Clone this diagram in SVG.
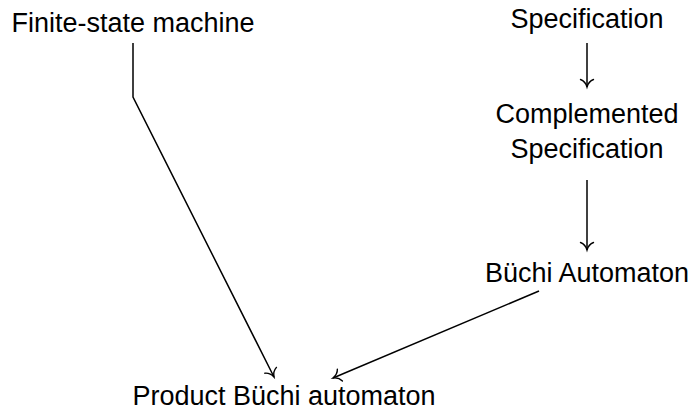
<svg xmlns="http://www.w3.org/2000/svg" width="695" height="410" viewBox="0 0 695 410">
<style>
text{font-family:"Liberation Sans",Arial,sans-serif;font-size:27px;fill:#000;text-anchor:middle}
.e{fill:none;stroke:#000;stroke-width:1.5}
</style>
<defs>
<marker id="to" markerUnits="userSpaceOnUse" markerWidth="20" markerHeight="20" viewBox="-10 -10 20 20" refX="0" refY="0" orient="auto">
<path d="M-7.5,-6.5 C-6,-2.6 -2.5,-0.7 0,0 C-2.5,0.7 -6,2.6 -7.5,6.5" fill="none" stroke="#000" stroke-width="1.4" stroke-linecap="round"/>
</marker>
</defs>
<rect width="695" height="410" fill="#fff"/>
<g id="fsm"><text x="133" y="32">Finite-state machine</text></g>
<g id="spec"><text x="587" y="28">Specification</text></g>
<g id="comp"><text x="587" y="123">Complemented</text><text x="587" y="158">Specification</text></g>
<g id="buchi"><text x="587" y="282">Büchi Automaton</text></g>
<g id="product"><text x="284" y="405">Product Büchi automaton</text></g>
<g id="connectors">
<path class="e" d="M587,43 V87" marker-end="url(#to)"/>
<path class="e" d="M587,180 V250" marker-end="url(#to)"/>
<path class="e" d="M133,43 V97 L274,377" marker-end="url(#to)"/>
<path class="e" d="M539,291 L333,378" marker-end="url(#to)"/>
</g>
</svg>
